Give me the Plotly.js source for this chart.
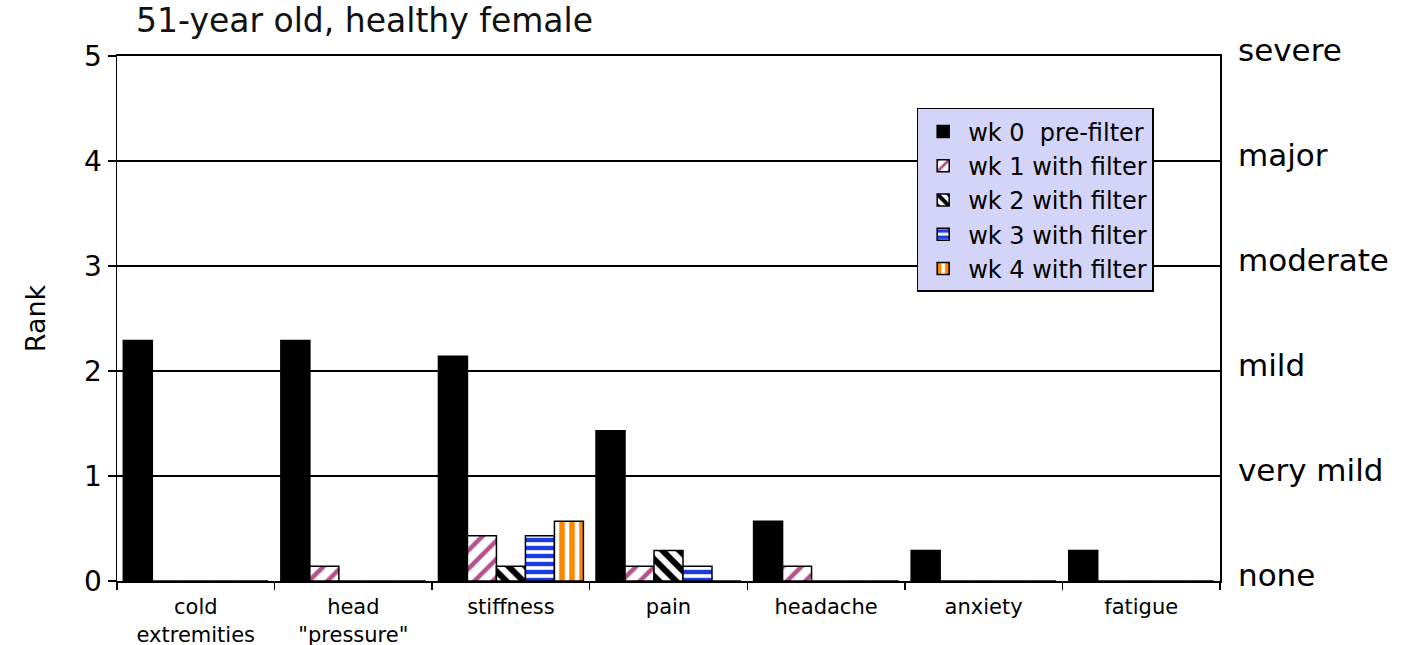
<!DOCTYPE html>
<html>
<head>
<meta charset="utf-8">
<script src="https://cdn.plot.ly/plotly-3.0.1.min.js"></script>
<style>html,body{margin:0;padding:0;background:#fff;}#chart{width:1403px;height:645px;}</style>
</head>
<body>
<div id="chart"></div>
<script>
const categories = ['cold<br>extremities', 'head<br>"pressure"', 'stiffness', 'pain', 'headache', 'anxiety', 'fatigue'];
const seriesNames = ['wk 0 \u00a0pre-filter', 'wk 1 with filter', 'wk 2 with filter', 'wk 3 with filter', 'wk 4 with filter'];
const wk0 = [2.29, 2.29, 2.14, 1.43, 0.57, 0.29, 0.29];
const wk1 = [0, 0.14, 0.43, 0.14, 0.14, 0, 0];
const wk2 = [0, 0, 0.14, 0.29, 0, 0, 0];
const wk3 = [0, 0, 0.43, 0.14, 0, 0, 0];
const wk4 = [0, 0, 0.57, 0, 0, 0, 0];
const rankTicks = [0, 1, 2, 3, 4, 5];
const severityLabels = ['none', 'very mild', 'mild', 'moderate', 'major', 'severe'];

const FONT = 'DejaVu Sans, Arial, sans-serif';
const line = {color: '#000', width: 1.5};

const styles = [
  {color: '#000000', line: line},
  {color: '#ffffff', line: line, pattern: {shape: '/', fgcolor: '#b5528a', bgcolor: '#ffffff', size: 13, solidity: 0.35}},
  {color: '#ffffff', line: line, pattern: {shape: '\\', fgcolor: '#000000', bgcolor: '#ffffff', size: 12, solidity: 0.5}},
  {color: '#ffffff', line: line, pattern: {shape: '-', fgcolor: '#1c3ce0', bgcolor: '#ffffff', size: 8, solidity: 0.55}},
  {color: '#ffffff', line: line, pattern: {shape: '|', fgcolor: '#ff8800', bgcolor: '#ffffff', size: 10, solidity: 0.55}}
];
const allSeries = [wk0, wk1, wk2, wk3, wk4];

const traces = allSeries.map((vals, i) => ({
  type: 'bar',
  name: seriesNames[i],
  x: categories,
  y: vals,
  marker: styles[i],
  hoverinfo: 'skip'
}));

const severityAnnotations = rankTicks.map((v, i) => ({
  x: 1, xref: 'paper', xanchor: 'left', xshift: 16,
  y: v, yref: 'y', yanchor: 'middle', yshift: 6,
  text: severityLabels[i],
  showarrow: false,
  font: {family: FONT, size: 31, color: '#000'}
}));

const layout = {
  width: 1403,
  height: 645,
  margin: {l: 117, r: 183, t: 56, b: 64},
  paper_bgcolor: '#ffffff',
  plot_bgcolor: '#ffffff',
  barmode: 'group',
  bargap: 0.08,
  bargroupgap: 0,
  font: {family: FONT, color: '#000'},
  title: {
    text: '51-year old, healthy female',
    font: {family: FONT, size: 33, color: '#111'},
    x: 0.097, xref: 'container', xanchor: 'left',
    y: 0.969, yref: 'container', yanchor: 'middle'
  },
  xaxis: {
    type: 'category',
    tickson: 'boundaries',
    ticks: 'outside',
    ticklen: 7,
    tickcolor: '#000',
    tickwidth: 1.5,
    ticklabelstandoff: 6,
    showline: true,
    mirror: true,
    linecolor: '#000',
    linewidth: 2,
    showgrid: false,
    zeroline: false,
    tickfont: {family: FONT, size: 21, color: '#000'},
    fixedrange: true
  },
  yaxis: {
    range: [0, 5],
    tickvals: rankTicks,
    ticks: 'outside',
    ticklen: 8,
    tickwidth: 1.5,
    tickcolor: '#000',
    showline: true,
    mirror: true,
    linecolor: '#000',
    linewidth: 1.5,
    showgrid: true,
    gridcolor: '#000',
    gridwidth: 1.5,
    zeroline: false,
    tickfont: {family: FONT, size: 28, color: '#000'},
    title: {text: 'Rank', font: {family: FONT, size: 27, color: '#000'}, standoff: 30},
    fixedrange: true
  },
  annotations: severityAnnotations,
  showlegend: true,
  legend: {
    x: 0.725, xanchor: 'left',
    y: 0.901, yanchor: 'top',
    bgcolor: '#d4d4f9',
    bordercolor: '#000',
    borderwidth: 1.5,
    font: {family: FONT, size: 24, color: '#000'},
    itemwidth: 40,
    entrywidth: 255,
    traceorder: 'normal'
  },
  hovermode: false
};

Plotly.newPlot('chart', traces, layout, {displayModeBar: false, staticPlot: true});
</script>
</body>
</html>
